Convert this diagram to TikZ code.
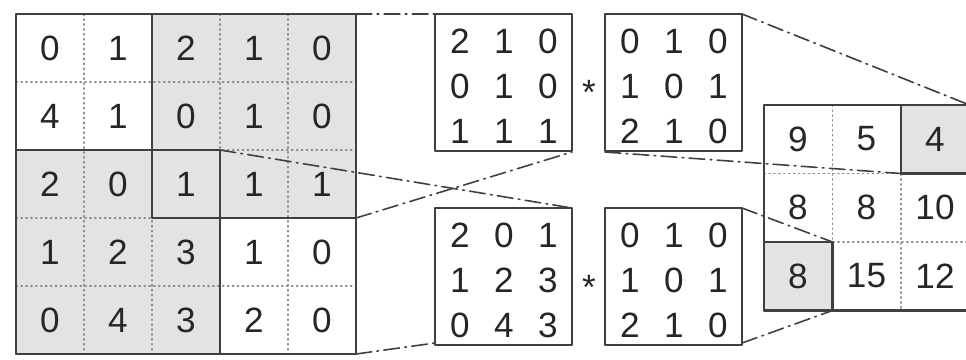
\documentclass[tikz,border=0pt]{standalone}
\usepackage{fontspec}
\setmainfont{Liberation Sans}
\usetikzlibrary{calc,positioning}

\begin{document}
\begin{tikzpicture}[x=0.02cm, y=-0.02cm, line cap=round, line join=round]

% ------------------------------------------------
% Styles
% ------------------------------------------------
\tikzset{
    frame/.style={line width=1.4pt, black!75},
    box/.style={line width=1.3pt, black!75},
    grid/.style={line width=0.7pt, black!45, dash pattern=on 0.8pt off 2pt},
    proj/.style={line width=0.9pt, black!75, dash pattern=on 9pt off 3pt on 1pt off 3pt},
    shade/.style={fill=black!11},
    num/.style={font=\fontsize{20}{20}\selectfont, text=black!85, inner sep=0pt},
}

\useasboundingbox (0,0) rectangle (966,359);
\clip (0,0) rectangle (966,359);

% ------------------------------------------------
% Main coordinates
% ------------------------------------------------
\coordinate (A)  at (16,14);     % input matrix, top-left
\coordinate (Ar) at (356,14);    % input matrix, top-right
\coordinate (Ab) at (356,354);   % input matrix, bottom-right
\coordinate (TR) at (356,218);   % top-right block, bottom-right
\coordinate (BL) at (220,150);   % bottom-left block, top-right
\coordinate (K1) at (435,14);    % upper kernel pair
\coordinate (K2) at (605,14);
\coordinate (L1) at (435,208);   % lower kernel pair
\coordinate (L2) at (605,208);
\coordinate (R)  at (764,105);   % output matrix, top-left

% ------------------------------------------------
% Input matrix 5x5
% ------------------------------------------------
\fill[shade] (152,14) rectangle (356,218);
\fill[shade] (16,150) rectangle (220,354);

\foreach \i in {1,...,4}{
    \draw[grid] ($(A)+(68*\i,0)$) -- ++(0,340);
    \draw[grid] ($(A)+(0,68*\i)$) -- ++(340,0);
}

\foreach \row [count=\r from 0] in {{0,1,2,1,0},{4,1,0,1,0},{2,0,1,1,1},{1,2,3,1,0},{0,4,3,2,0}}{
    \foreach \v [count=\c from 0] in \row{
        \node[num] (m-\r-\c) at ($(A)+(34+68*\c,34+68*\r)$) {\v};
    }
}

\draw[frame] (152,14) rectangle (TR);
\draw[frame] (16,354) rectangle (BL);
\draw[frame] (A) rectangle (Ab);

% ------------------------------------------------
% Kernel pairs
% ------------------------------------------------
\foreach \P/\vals in {K1/{{2,1,0},{0,1,0},{1,1,1}}, K2/{{0,1,0},{1,0,1},{2,1,0}},
                      L1/{{2,0,1},{1,2,3},{0,4,3}}, L2/{{0,1,0},{1,0,1},{2,1,0}}}{
    \draw[box] (\P) rectangle ++(137,137);
    \foreach \row [count=\r from 0] in \vals{
        \foreach \v [count=\c from 0] in \row{
            \node[num] (\P-\r-\c) at ($(\P)+(25+44*\c,27+45*\r)$) {\v};
        }
    }
}

\node[num] (s1) at (589,92) {*};
\node[num] (s2) at (589,287) {*};

% ------------------------------------------------
% Output matrix 3x3
% ------------------------------------------------
\fill[shade] ($(R)+(137,0)$) rectangle ++(68.5,68.5);
\fill[shade] ($(R)+(0,137)$) rectangle ++(68.5,68.5);

\foreach \i in {1,2}{
    \draw[grid] ($(R)+(68.5*\i,0)$) -- ++(0,205.5);
    \draw[grid] ($(R)+(0,68.5*\i)$) -- ++(205.5,0);
}

\foreach \row [count=\r from 0] in {{9,5,4},{8,8,10},{8,15,12}}{
    \foreach \v [count=\c from 0] in \row{
        \node[num] (o-\r-\c) at ($(R)+(34+68.5*\c,34+68.5*\r)$) {\v};
    }
}

\coordinate (O1) at ($(R)+(205.5,0)$);     % cell (0,2) top-right
\coordinate (O2) at ($(R)+(137,68.5)$);    % cell (0,2) bottom-left
\coordinate (O3) at ($(R)+(68.5,137)$);    % cell (2,0) top-right
\coordinate (O4) at ($(R)+(68.5,205.5)$);  % cell (2,0) bottom-right

\draw[frame] ($(R)+(137,0)$) rectangle (O1|-O2);
\draw[frame] ($(R)+(0,137)$) rectangle (O4);
\draw[frame] (R) rectangle ++(205.5,205.5);

% ------------------------------------------------
% Projection lines
% ------------------------------------------------
\draw[proj] (Ar) -- (K1);
\draw[proj] (TR) -- ($(K1)+(137,138)$);
\draw[proj] (BL) -- ($(L1)+(137,0)$);
\draw[proj] (Ab) -- ($(L1)+(0,135)$);

\draw[proj] ($(K2)+(137,0)$) -- (O1);
\draw[proj] ($(K2)+(0,138)$) -- (O2);
\draw[proj] ($(L2)+(137,0)$) -- (O3);
\draw[proj] ($(L2)+(137,135)$) -- (O4);

\end{tikzpicture}
\end{document}
